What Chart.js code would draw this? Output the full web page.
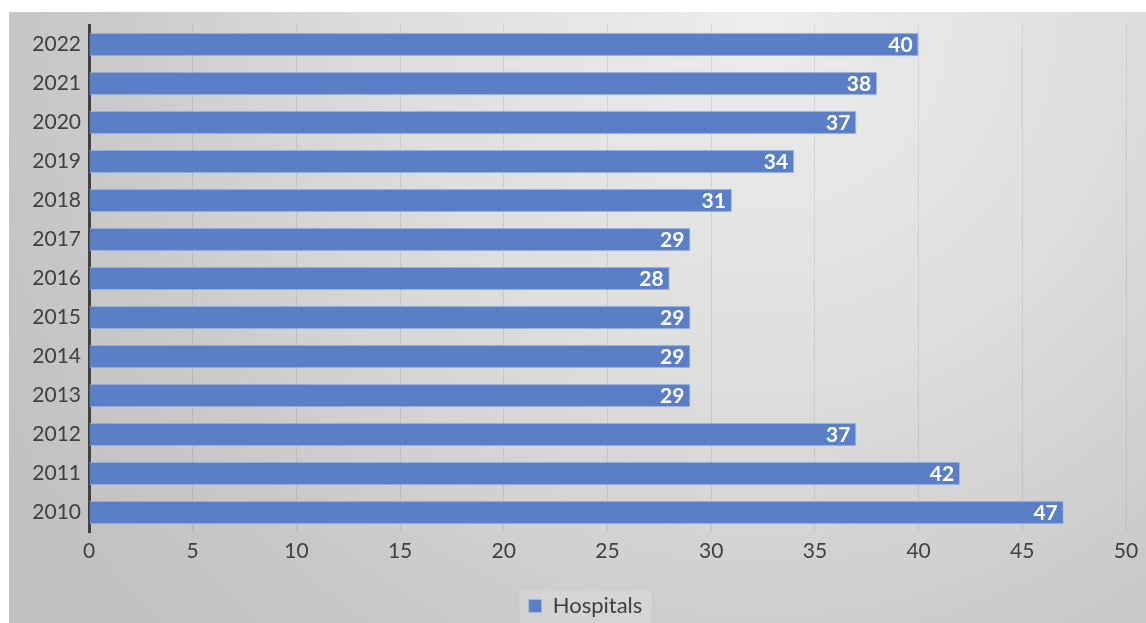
<!DOCTYPE html>
<html>
<head>
<meta charset="utf-8">
<script src="https://cdn.jsdelivr.net/npm/chart.js@4.4.1/dist/chart.umd.min.js"></script>
<style>
  html, body { margin: 0; padding: 0; background: #fff; }
  #wrap { width: 1146px; height: 623px; position: relative; }
</style>
</head>
<body>
<div id="wrap"><canvas id="hospChart"></canvas></div>
<script>
/* ------------------------------
   DATA
--------------------------------*/
const years = ["2010", "2011", "2012", "2013", "2014", "2015", "2016",
               "2017", "2018", "2019", "2020", "2021", "2022"];
const hospitals = [47, 42, 37, 29, 29, 29, 28, 29, 31, 34, 37, 38, 40];
const seriesName = "Hospitals";
const xTicks = [0, 5, 10, 15, 20, 25, 30, 35, 40, 45, 50];

const FONT = "Lato, 'Noto Sans', sans-serif";

/* ------------------------------
   LEGEND NUDGE (sits a bit right / low in the original)
--------------------------------*/
const legendNudge = {
    id: "legendNudge",
    afterLayout(chart) {
        const lg = chart.legend;
        if (!lg) return;
        const dx = 18, dy = 4;
        lg.left += dx; lg.right += dx;
        lg.top += dy; lg.bottom += dy;
        (lg.legendHitBoxes || []).forEach(hb => { hb.left += dx; hb.top += dy; });
    }
};

/* ------------------------------
   BACKGROUND + LEGEND PANEL
--------------------------------*/
const backgroundPlugin = {
    id: "bgPanel",
    beforeDraw(chart) {
        const ctx = chart.ctx;
        const w = chart.width, h = chart.height;
        ctx.save();
        ctx.fillStyle = "#ffffff";
        ctx.fillRect(0, 0, w, h);

        let grad = ctx.createRadialGradient(760, 20, 0, 760, 20, 900);
        grad.addColorStop(0, "#ededed");
        grad.addColorStop(0.4, "#dedede");
        grad.addColorStop(0.75, "#c9c9c9");
        grad.addColorStop(1, "#c0c0c0");
        ctx.fillStyle = grad;
        ctx.fillRect(9, 12, w - 9, h - 12);

        // light panel behind the legend
        const lg = chart.legend;
        if (lg && lg.legendHitBoxes && lg.legendHitBoxes.length) {
            const hb = lg.legendHitBoxes[0];
            ctx.fillStyle = "rgba(255,255,255,0.15)";
            ctx.fillRect(hb.left - 9, hb.top - 8, hb.width + 18, h - hb.top + 8);
        }
        ctx.restore();
    }
};

/* ------------------------------
   VALUE LABELS INSIDE BAR ENDS
--------------------------------*/
const valueLabels = {
    id: "valueLabels",
    afterDatasetsDraw(chart) {
        const ctx = chart.ctx;
        const meta = chart.getDatasetMeta(0);
        ctx.save();
        ctx.font = "bold 21px " + FONT;
        ctx.fillStyle = "#ffffff";
        ctx.textAlign = "right";
        ctx.textBaseline = "middle";
        meta.data.forEach((bar, i) => {
            ctx.fillText(String(hospitals[i]), bar.x - 6, bar.y + 1);
        });
        ctx.restore();
    }
};

/* ------------------------------
   CHART
--------------------------------*/
let ctx = document.getElementById("hospChart");

let hospChart = new Chart(ctx, {
    type: "bar",
    data: {
        labels: years,
        datasets: [{
            label: seriesName,
            data: hospitals,
            backgroundColor: "#5a7fc6",
            borderColor: "#a3bbe3",
            borderWidth: 1,
            categoryPercentage: 1,
            barPercentage: 0.6
        }]
    },
    options: {
        indexAxis: "y",
        responsive: true,
        maintainAspectRatio: false,
        animation: false,
        layout: { padding: { left: 9, top: 25, right: 20, bottom: 0 } },
        scales: {
            x: {
                min: 0,
                max: 50,
                afterBuildTicks: scale => {
                    scale.ticks = xTicks.map(v => ({ value: v }));
                },
                afterFit: scale => { scale.height = 54; },
                grid: {
                    color: "rgba(0,0,0,0.08)",
                    lineWidth: 1,
                    drawTicks: false
                },
                border: { display: false },
                ticks: {
                    padding: 7,
                    color: "#404040",
                    font: { family: FONT, size: 21 }
                }
            },
            y: {
                reverse: true,
                afterFit: scale => { scale.width = 80; },
                grid: { display: false, drawTicks: false },
                border: { display: true, color: "#404040", width: 3 },
                ticks: {
                    padding: 8,
                    color: "#404040",
                    font: { family: FONT, size: 21 }
                }
            }
        },
        plugins: {
            legend: {
                position: "bottom",
                labels: {
                    boxWidth: 13,
                    boxHeight: 13,
                    padding: 5,
                    color: "#404040",
                    font: { family: FONT, size: 22 }
                }
            },
            tooltip: { enabled: false }
        }
    },
    plugins: [legendNudge, backgroundPlugin, valueLabels]
});
</script>
</body>
</html>
